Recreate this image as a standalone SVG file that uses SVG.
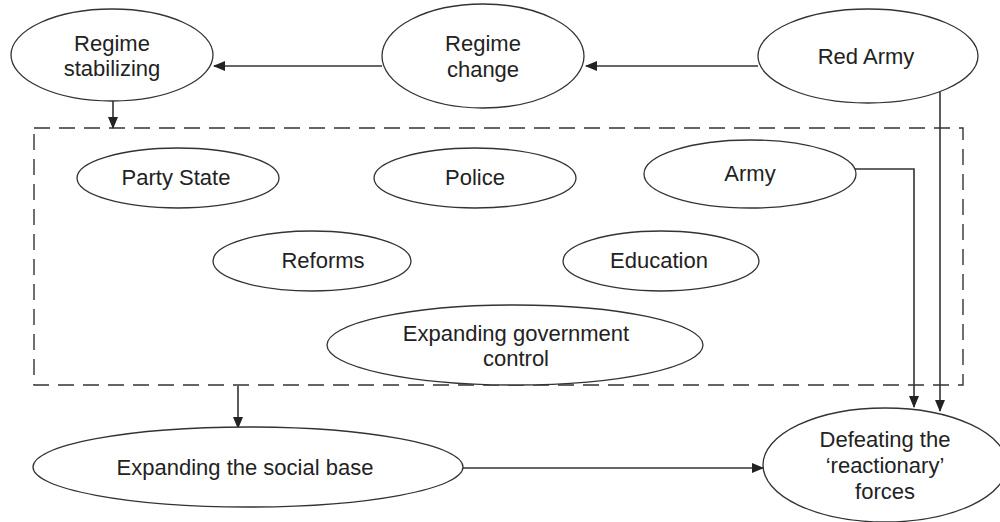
<svg xmlns="http://www.w3.org/2000/svg" width="1000" height="522" viewBox="0 0 1000 522">
<defs>
<style>
.n ellipse{fill:#fff;stroke:#333;stroke-width:1.3}
.n text{font-family:"Liberation Sans",Arial,sans-serif;font-size:22px;fill:#222;text-anchor:middle}
.c line,.c polyline{stroke:#333;stroke-width:1.6;fill:none}
.box{fill:none;stroke:#333;stroke-width:1.4;stroke-dasharray:16,9}
</style>
<marker id="ah" markerWidth="12" markerHeight="10" refX="11" refY="5" orient="auto" markerUnits="userSpaceOnUse">
<path d="M0,0 L12,5 L0,10 Z" fill="#222"/>
</marker>
</defs>
<rect width="1000" height="522" fill="#fff"/>
<rect class="box" x="34" y="128" width="929" height="257"/>
<g class="c">
<line x1="382" y1="66" x2="214" y2="66" marker-end="url(#ah)"/>
<line x1="758" y1="66" x2="586" y2="66" marker-end="url(#ah)"/>
<line x1="113" y1="100" x2="113" y2="128" marker-end="url(#ah)"/>
<line x1="940" y1="92" x2="940" y2="411" marker-end="url(#ah)"/>
<polyline points="855,169 914,169 914,407" marker-end="url(#ah)"/>
<line x1="238" y1="386" x2="238" y2="428" marker-end="url(#ah)"/>
<line x1="463" y1="468" x2="763" y2="468" marker-end="url(#ah)"/>
</g>
<g id="regime-stabilizing" class="n"><ellipse cx="112" cy="55" rx="101" ry="46"/><text x="112" y="51">Regime</text><text x="112" y="76">stabilizing</text></g>
<g id="regime-change" class="n"><ellipse cx="483" cy="56" rx="101" ry="52"/><text x="483" y="51">Regime</text><text x="483" y="77">change</text></g>
<g id="red-army" class="n"><ellipse cx="868" cy="56" rx="110" ry="47"/><text x="866" y="64">Red Army</text></g>
<g id="party-state" class="n"><ellipse cx="178" cy="178" rx="101" ry="30"/><text x="176" y="185">Party State</text></g>
<g id="police" class="n"><ellipse cx="475" cy="178" rx="101" ry="30"/><text x="475" y="185">Police</text></g>
<g id="army" class="n"><ellipse cx="750" cy="174" rx="106" ry="34"/><text x="750" y="181">Army</text></g>
<g id="reforms" class="n"><ellipse cx="312" cy="261" rx="99" ry="30"/><text x="323" y="268">Reforms</text></g>
<g id="education" class="n"><ellipse cx="661" cy="261" rx="98" ry="30"/><text x="659" y="268">Education</text></g>
<g id="expanding-government-control" class="n"><ellipse cx="515" cy="345" rx="188" ry="40"/><text x="516" y="341">Expanding government</text><text x="516" y="366">control</text></g>
<g id="expanding-social-base" class="n"><ellipse cx="248" cy="467" rx="215" ry="40"/><text x="245" y="475">Expanding the social base</text></g>
<g id="defeating" class="n"><ellipse cx="885" cy="465" rx="122" ry="57"/><text x="885" y="447">Defeating the</text><text x="885" y="473">‘reactionary’</text><text x="885" y="499">forces</text></g>
</svg>
